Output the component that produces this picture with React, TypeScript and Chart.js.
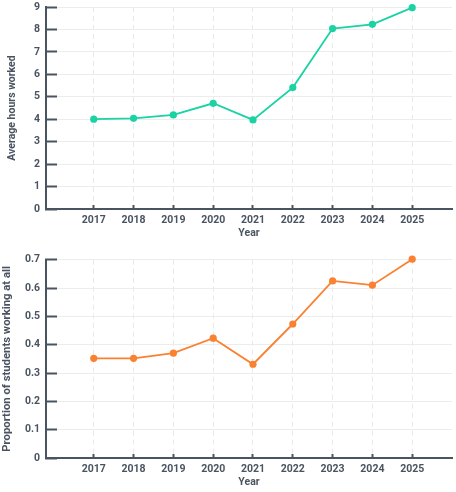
import React, { useEffect, useRef } from 'react';
import { Chart, registerables } from 'chart.js';

Chart.register(...registerables);

const years = [2017, 2018, 2019, 2020, 2021, 2022, 2023, 2024, 2025];
const avgHours = [4.0, 4.04, 4.19, 4.71, 3.97, 5.41, 8.04, 8.23, 8.97];
const propWorking = [0.352, 0.352, 0.37, 0.423, 0.331, 0.473, 0.625, 0.61, 0.702];
const hoursTicks = [0, 1, 2, 3, 4, 5, 6, 7, 8, 9];
const propTicks = [0, 0.1, 0.2, 0.3, 0.4, 0.5, 0.6, 0.7];

const TEXT = '#4a5461';
const FONT = 'Roboto, sans-serif';
const FSIZE = 10.5;

function makeConfig(
  values: number[],
  color: string,
  yTitle: string,
  yTicks: number[],
  yFmt: (v: number) => string,
  titlePad: number,
  titleSize: number,
  padTop: number
): any {
  return {
    type: 'line',
    data: {
      datasets: [
        {
          data: years.map((y, i) => ({ x: y, y: values[i] })),
          borderColor: color,
          backgroundColor: color,
          pointBackgroundColor: color,
          pointBorderColor: color,
          borderWidth: 1.8,
          pointRadius: 3.6,
          pointBorderWidth: 0,
          tension: 0,
          clip: false,
        },
      ],
    },
    options: {
      animation: false,
      responsive: false,
      devicePixelRatio: 1,
      layout: { padding: { top: padTop, right: 1, left: 0, bottom: 0 } },
      plugins: { legend: { display: false }, tooltip: { enabled: false } },
      scales: {
        x: {
          type: 'linear',
          min: 2015.8,
          max: 2026,
          afterBuildTicks: (s: any) => {
            s.ticks = years.map((v) => ({ value: v }));
          },
          afterFit: (s: any) => {
            s.height = 34;
            s.paddingLeft = 0;
            s.paddingRight = 0;
          },
          ticks: {
            color: TEXT,
            font: { family: FONT, size: FSIZE, weight: 'bold' },
            padding: 9,
            maxRotation: 0,
            autoSkip: false,
            callback: (v: number) => String(v),
          },
          grid: {
            color: '#e9e9e9',
            lineWidth: 1,
            tickLength: -4,
            tickColor: TEXT,
            tickWidth: 2,
            tickBorderDash: [],
          },
          border: { display: true, color: TEXT, width: 2, dash: [5, 4] },
          title: {
            display: true,
            text: 'Year',
            color: TEXT,
            font: { family: FONT, size: FSIZE, weight: 'bold' },
            padding: { top: 0, bottom: 3 },
          },
        },
        y: {
          type: 'linear',
          min: yTicks[0],
          max: yTicks[yTicks.length - 1],
          afterBuildTicks: (s: any) => {
            s.ticks = yTicks.map((v) => ({ value: v }));
          },
          afterFit: (s: any) => {
            s.width = 46;
            s.paddingTop = 0;
            s.paddingBottom = 0;
          },
          ticks: {
            color: TEXT,
            font: { family: FONT, size: FSIZE, weight: 'bold' },
            padding: 17,
            callback: (v: number) => yFmt(v),
          },
          grid: {
            color: '#ececec',
            lineWidth: 1,
            tickLength: -11,
            tickColor: TEXT,
            tickWidth: 2,
          },
          border: { display: true, color: TEXT, width: 2 },
          title: {
            display: true,
            text: yTitle,
            color: TEXT,
            font: { family: FONT, size: titleSize, weight: 'bold' },
            padding: { top: titlePad, bottom: 0 },
          },
        },
      },
    },
  };
}

function LineChart(props: { config: () => any; height: number }) {
  const ref = useRef<HTMLCanvasElement | null>(null);
  useEffect(() => {
    if (!ref.current) return;
    const chart = new Chart(ref.current, props.config());
    return () => chart.destroy();
  }, []);
  return (
    <canvas
      ref={ref}
      width={456}
      height={props.height}
      style={{ display: 'block', width: 456, height: props.height }}
    />
  );
}

export default function App() {
  useEffect(() => {
    document.body.style.margin = '0';
  }, []);
  return (
    <div style={{ width: 456, height: 492, background: '#ffffff' }}>
      <LineChart
        height={243}
        config={() =>
          makeConfig(avgHours, '#19d3a2', 'Average hours worked', hoursTicks, (v) => String(v), 5.7, 10.5, 7)
        }
      />
      <LineChart
        height={249}
        config={() =>
          makeConfig(
            propWorking,
            '#fa8131',
            'Proportion of students working at all',
            propTicks,
            (v) => (v === 0 ? '0' : v.toFixed(1)),
            0.5,
            11.3,
            16.7
          )
        }
      />
    </div>
  );
}
